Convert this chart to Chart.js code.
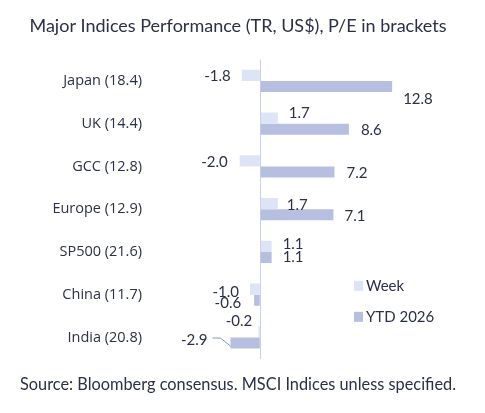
<!DOCTYPE html>
<html>
<head>
<meta charset="utf-8">
<script src="https://cdn.jsdelivr.net/npm/chart.js@4.4.1/dist/chart.umd.min.js"></script>
<style>
  html, body { margin: 0; padding: 0; background: #fff; }
  #wrap { width: 485px; height: 413px; position: relative; }
</style>
</head>
<body>
<div id="wrap"><canvas id="indexChart"></canvas></div>
<script>
// Categories and returns (%)
const markets = ["Japan (18.4)", "UK (14.4)", "GCC (12.8)", "Europe (12.9)", "SP500 (21.6)", "China (11.7)", "India (20.8)"];
const weekReturns = [-1.8, 1.7, -2.0, 1.7, 1.1, -1.0, -0.2];
const ytdReturns = [12.8, 8.6, 7.2, 7.1, 1.1, -0.6, -2.9];

const textColor = '#2b3048';
const fontFamily = 'Lato, "Open Sans", sans-serif';
const labelFamily = '"Open Sans", Lato, sans-serif';

// label nudges per bar: [extra gap, dy] (style only)
const labelNudge = [
  [[0, 1], [0, -5], [1, 1], [-2, 1], [0, -2], [0, 3], [-5, -11]],
  [[-1, 13], [0, 1], [0, 1], [-1, 1], [-1, 0], [1, 3], [11, -3]]
];

const valueLabels = {
  id: 'valueLabels',
  afterDatasetsDraw(chart) {
    const ctx = chart.ctx;
    ctx.save();
    ctx.font = '15px ' + fontFamily;
    ctx.fillStyle = textColor;
    ctx.textBaseline = 'middle';
    chart.data.datasets.forEach((ds, di) => {
      const meta = chart.getDatasetMeta(di);
      meta.data.forEach((bar, i) => {
        const v = ds.data[i];
        const [dg, dy] = labelNudge[di][i];
        const gap = (di === 0 ? 11 : 12) + dg;
        const x = v >= 0 ? bar.x + gap : bar.x - gap;
        ctx.textAlign = v >= 0 ? 'left' : 'right';
        ctx.fillText(v.toFixed(1), x, bar.y + dy);
        // leader line for a label pushed far from its bar
        if (dg > 8) {
          ctx.strokeStyle = '#7f9bc9';
          ctx.lineWidth = 1;
          ctx.beginPath();
          ctx.moveTo(x + 5, bar.y + dy - 2);
          ctx.lineTo(x + 13, bar.y + dy - 2);
          ctx.lineTo(bar.x, bar.y + 3);
          ctx.stroke();
        }
      });
    });
    ctx.restore();
  }
};

const innerLegend = {
  id: 'innerLegend',
  afterDraw(chart) {
    const ctx = chart.ctx;
    const area = chart.chartArea;
    ctx.save();
    ctx.font = '15px ' + fontFamily;
    ctx.textBaseline = 'middle';
    ctx.textAlign = 'left';
    chart.data.datasets.forEach((ds, di) => {
      const y = area.bottom - 73 + di * 31;
      const x = area.right - 102;
      ctx.fillStyle = ds.backgroundColor;
      ctx.fillRect(x, y - 5, 9, 10);
      ctx.fillStyle = textColor;
      ctx.fillText(ds.label, x + 12, y);
    });
    ctx.restore();
  }
};

new Chart(document.getElementById('indexChart'), {
  type: 'bar',
  data: {
    labels: markets,
    datasets: [
      { label: 'Week', data: weekReturns, backgroundColor: '#dde4f6' },
      { label: 'YTD 2026', data: ytdReturns, backgroundColor: '#b6bfdf' }
    ]
  },
  options: {
    indexAxis: 'y',
    responsive: true,
    maintainAspectRatio: false,
    animation: false,
    datasets: { bar: { categoryPercentage: 0.52, barPercentage: 1 } },
    layout: { padding: { left: 20, right: 29 } },
    scales: {
      x: {
        min: -11,
        max: 19,
        ticks: { display: false, stepSize: 1 },
        border: { display: false },
        grid: {
          drawTicks: false,
          color: c => c.tick && c.tick.value === 0 ? '#c6d0ea' : 'rgba(0,0,0,0)'
        }
      },
      y: {
        grid: { display: false, drawTicks: false },
        border: { display: false },
        ticks: { color: textColor, font: { size: 14.5, family: labelFamily }, padding: 5 },
        afterFit: s => { s.width = 127; }
      }
    },
    plugins: {
      legend: { display: false },
      tooltip: { enabled: false },
      title: {
        display: true,
        text: 'Major Indices Performance (TR, US$), P/E in brackets',
        color: textColor,
        font: { size: 18, family: fontFamily, weight: 'normal' },
        padding: { top: 15, bottom: 23 }
      },
      subtitle: {
        display: true,
        position: 'bottom',
        text: 'Source: Bloomberg consensus. MSCI Indices unless specified.',
        color: textColor,
        font: { size: 16.8, family: fontFamily, weight: 'normal' },
        padding: { top: 16, bottom: 18 }
      }
    }
  },
  plugins: [valueLabels, innerLegend]
});
</script>
</body>
</html>
